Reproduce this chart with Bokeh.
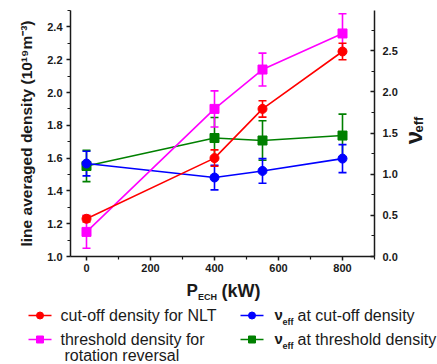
from math import pi
from bokeh.plotting import figure
from bokeh.models import (Range1d, LinearAxis, Whisker, TeeHead, ColumnDataSource,
                          FixedTicker, PrintfTickFormatter)
from bokeh.layouts import column, row
from bokeh.embed import file_html
from bokeh.resources import INLINE
from bokeh.core.properties import value

# ---------------- data ----------------
power_kw = [0, 400, 550, 800]
cutoff_density = [1.23, 1.60, 1.90, 2.25]
cutoff_density_err = [0.02, 0.05, 0.05, 0.05]
threshold_density = [1.15, 1.90, 2.14, 2.36]
threshold_density_err = [0.10, 0.11, 0.10, 0.12]
nu_cutoff = [1.13, 0.96, 1.04, 1.19]
nu_cutoff_err = [0.15, 0.15, 0.15, 0.17]
nu_threshold = [1.10, 1.44, 1.41, 1.47]
nu_threshold_err = [0.19, 0.25, 0.24, 0.26]

x_ticks = [0, 200, 400, 600, 800]
x_minor = [100, 300, 500, 700, 900]
left_ticks = [1.0, 1.2, 1.4, 1.6, 1.8, 2.0, 2.2, 2.4]
left_minor = [1.1, 1.3, 1.5, 1.7, 1.9, 2.1, 2.3, 2.5]
right_ticks = [0.0, 0.5, 1.0, 1.5, 2.0, 2.5]
right_minor = [0.25, 0.75, 1.25, 1.75, 2.25, 2.75]

legend_labels = ["cut-off density for NLT", "threshold density for", "rotation reversal",
                 "at cut-off density", "at threshold density"]
x_title = ["P", "ECH", "(kW)"]
right_title = ["\u03bd", "eff"]

RED = "#ff0000"
MAG = "#ff00ff"
BLUE = "#0000ff"
GREEN = "#008000"
INK = "#1a1a1a"
FONT = "Liberation Sans"

W_MAIN = 400
W_SIDE = 37
H_MAIN = 278
H_LEG = 86

# ---------------- main plot ----------------
p = figure(width=W_MAIN, height=H_MAIN, output_backend="svg", toolbar_location=None,
           x_range=Range1d(-50, 900), y_range=Range1d(1.0, 2.5),
           min_border_left=70, min_border_right=26, min_border_top=10, min_border_bottom=22)
p.frame_align = False
p.extra_y_ranges = {"nu": Range1d(0, 2.99)}
p.outline_line_color = None
p.grid.visible = False


def style_axis(ax):
    ax.axis_line_width = 1.5
    ax.axis_line_color = INK
    ax.major_tick_line_width = 1.5
    ax.minor_tick_line_width = 1.2
    ax.major_tick_line_color = INK
    ax.minor_tick_line_color = INK
    ax.major_label_text_font = FONT
    ax.major_label_text_font_style = "bold"
    ax.major_label_text_font_size = "11px"
    ax.major_label_text_color = INK


xa = p.xaxis[0]
style_axis(xa)
xa.ticker = FixedTicker(ticks=x_ticks, minor_ticks=x_minor)
xa.major_tick_out = 4
xa.major_tick_in = 0
xa.minor_tick_out = 3
xa.minor_tick_in = 0
xa.major_label_standoff = 3

ya = p.yaxis[0]
style_axis(ya)
ya.ticker = FixedTicker(ticks=left_ticks, minor_ticks=left_minor)
ya.formatter = PrintfTickFormatter(format="%.1f")
ya.major_tick_out = 4
ya.major_tick_in = 0
ya.minor_tick_out = 3
ya.minor_tick_in = 0
ya.major_label_standoff = 4
ya.axis_label = "line averaged density (10\u00b9\u2079m\u207b\u00b3)"
ya.axis_label_text_font = FONT
ya.axis_label_text_font_style = "bold"
ya.axis_label_text_font_size = "15.5px"
ya.axis_label_text_color = INK
ya.axis_label_standoff = 9

ra = LinearAxis(y_range_name="nu")
style_axis(ra)
ra.ticker = FixedTicker(ticks=right_ticks, minor_ticks=right_minor)
ra.formatter = PrintfTickFormatter(format="%.1f")
ra.major_tick_in = 4
ra.major_tick_out = 0
ra.minor_tick_in = 3
ra.minor_tick_out = 0
ra.major_label_standoff = 8
p.add_layout(ra, "right")


def series(y, err, color, marker, rng="default"):
    src = ColumnDataSource(dict(x=power_kw, y=y,
                                lo=[a - b for a, b in zip(y, err)],
                                hi=[a + b for a, b in zip(y, err)]))
    p.line("x", "y", source=src, color=color, line_width=1.6, y_range_name=rng)
    w = Whisker(base="x", lower="lo", upper="hi", source=src, dimension="height",
                line_color=color, line_width=1.6, y_range_name=rng,
                lower_head=TeeHead(size=8, line_color=color, line_width=1.6),
                upper_head=TeeHead(size=8, line_color=color, line_width=1.6))
    p.add_layout(w)
    p.scatter("x", "y", source=src, marker=marker, size=9, color=color, y_range_name=rng)


series(nu_threshold, nu_threshold_err, GREEN, "square", "nu")
series(nu_cutoff, nu_cutoff_err, BLUE, "circle", "nu")
series(threshold_density, threshold_density_err, MAG, "square")
series(cutoff_density, cutoff_density_err, RED, "circle")


def blank(fig):
    fig.outline_line_color = None
    fig.grid.visible = False
    fig.frame_align = False


# ---------------- right title panel (nu_eff) ----------------
r = figure(width=W_SIDE, height=H_MAIN, output_backend="svg", toolbar_location=None,
           x_range=Range1d(0, W_SIDE), y_range=Range1d(0, H_MAIN),
           min_border=0, x_axis_location=None, y_axis_location=None)
blank(r)
r.text(x=[12.5], y=[H_MAIN - 137], text=[right_title[0]], angle=pi / 2,
       text_font=value(FONT), text_font_style="bold", text_font_size="24px",
       text_line_height=1.0,
       text_align="center", text_baseline="middle", text_color=INK)
r.text(x=[17.5], y=[H_MAIN - 124], text=[right_title[1]], angle=pi / 2,
       text_font=value(FONT), text_font_style="bold", text_font_size="13px",
       text_line_height=1.0,
       text_align="center", text_baseline="middle", text_color=INK)

# ---------------- x title + legend panel ----------------
q = figure(width=W_MAIN + W_SIDE, height=H_LEG, output_backend="svg", toolbar_location=None,
           x_range=Range1d(0, W_MAIN + W_SIDE), y_range=Range1d(H_LEG, 0),
           min_border=0, x_axis_location=None, y_axis_location=None)
blank(q)

txt_kw = dict(text_font=value(FONT), text_color=INK, text_baseline="middle")
q.text(x=[186], y=[12], text=[x_title[0]], text_font_size="17px", text_font_style="bold", **txt_kw)
q.text(x=[197.5], y=[18], text=[x_title[1]], text_font_size="9px", text_font_style="bold", **txt_kw)
q.text(x=[221], y=[12], text=[x_title[2]], text_font_size="18px", text_font_style="bold", **txt_kw)

leg_x = [28, 28, 240, 240]
leg_y = [37, 61, 37, 61]
leg_colors = [RED, MAG, BLUE, GREEN]
leg_markers = ["circle", "square", "circle", "square"]
for lx, ly, c, m in zip(leg_x, leg_y, leg_colors, leg_markers):
    q.line(x=[lx, lx + 23], y=[ly, ly], color=c, line_width=1.6)
    q.scatter(x=[lx + 11.5], y=[ly], marker=m, size=7, color=c)

q.text(x=[60], y=[37], text=[legend_labels[0]], text_font_size="16px", **txt_kw)
q.text(x=[60], y=[61], text=[legend_labels[1]], text_font_size="16px", **txt_kw)
q.text(x=[64], y=[77], text=[legend_labels[2]], text_font_size="16px", **txt_kw)
for ly, lab in zip([37, 61], legend_labels[3:]):
    q.text(x=[274], y=[ly - 1], text=[right_title[0]], text_font_size="15px",
           text_font_style="bold", **txt_kw)
    q.text(x=[282], y=[ly + 6], text=[right_title[1]], text_font_size="9px",
           text_font_style="bold", **txt_kw)
    q.text(x=[297], y=[ly], text=[lab], text_font_size="16px", **txt_kw)

layout = column(row(p, r, spacing=0), q, spacing=0)
open("out.html", "w").write(file_html(layout, INLINE))
